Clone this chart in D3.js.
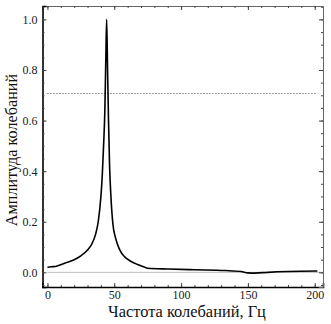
<!DOCTYPE html>
<html>
<head>
<meta charset="utf-8">
<script src="https://cdn.jsdelivr.net/npm/d3@7"></script>
<style>
  body { margin: 0; background: #fff; }
  svg { display: block; }
</style>
</head>
<body>
<div id="chart"></div>
<script>
// spectrum
let freq = [0, 3, 6, 10, 15, 20, 25, 30, 33, 36, 38, 40, 41, 42, 43, 43.7, 44.3, 45, 45.7, 46.5, 47.5, 49, 51, 54, 58, 62, 67, 72, 75, 90, 110, 133, 145, 150, 155, 165, 180, 202]
let amp  = [0.02, 0.022, 0.023, 0.03, 0.04, 0.05, 0.065, 0.088, 0.11, 0.15, 0.2, 0.3, 0.38, 0.5, 0.65, 0.85, 1.0, 0.8, 0.6, 0.42, 0.3, 0.19, 0.135, 0.09, 0.06, 0.045, 0.032, 0.022, 0.016, 0.013, 0.01, 0.007, 0.003, -0.002, -0.003, 0.0, 0.003, 0.005]

let xTicks = [0, 50, 100, 150, 200]
let yTicks = [0.0, 0.2, 0.4, 0.6, 0.8, 1.0]
let level = [1 / Math.SQRT2]   // half-power line

let xLabel = "Частота колебаний, Гц"
let yLabel = "Амплитуда колебаний"

let width = 331
let height = 324
let mLeft = 42.5, mRight = 323, mTop = 6, mBottom = 287

let x = d3.scaleLinear().domain([-3.7, 206.2]).range([mLeft, mRight])
let y = d3.scaleLinear().domain([-0.058, 1.053]).range([mBottom, mTop])

let svg = d3.select("#chart").append("svg")
  .attr("width", width)
  .attr("height", height)
  .attr("viewBox", [0, 0, width, height])

let font = "Liberation Serif, Times New Roman, serif"

// zero line
svg.append("line")
  .attr("x1", x(0)).attr("x2", mRight)
  .attr("y1", y(0)).attr("y2", y(0))
  .attr("stroke", "#bbb").attr("stroke-width", 1)

// 0.707 level
svg.selectAll(".level")
  .data(level)
  .join("line")
  .attr("x1", x(0)).attr("x2", x(202))
  .attr("y1", d => y(d)).attr("y2", d => y(d))
  .attr("stroke", "#444").attr("stroke-width", 1)
  .attr("stroke-dasharray", "1,2")

// curve
let pts = freq.map((f, i) => [f, amp[i]])
svg.append("path")
  .datum(pts)
  .attr("fill", "none")
  .attr("stroke", "#000")
  .attr("stroke-width", 1.6)
  .attr("stroke-linejoin", "round")
  .attr("d", d3.line().x(d => x(d[0])).y(d => y(d[1])).curve(d3.curveMonotoneX))

// axes, ticks inward
let xMinor = d3.range(0, 206, 10)
let yMinor = d3.range(-0.05, 1.051, 0.05)

let axB = d3.axisTop(x).tickValues(xTicks).tickSize(4).tickFormat(d3.format("d"))
let axT = d3.axisBottom(x).tickValues(xTicks).tickSize(4).tickFormat("")
let axL = d3.axisRight(y).tickValues(yTicks).tickSize(4).tickFormat(d3.format(".1f"))
let axR = d3.axisLeft(y).tickValues(yTicks).tickSize(4).tickFormat("")

function minor(g, axis, vals) {
  g.append("g").call(axis.tickValues(vals).tickSize(2).tickFormat(""))
    .call(s => s.select(".domain").remove())
}

let gB = svg.append("g").attr("transform", `translate(0,${mBottom})`)
gB.call(axB)
minor(gB, d3.axisTop(x), xMinor)
gB.selectAll("text").attr("y", 3).attr("dy", "0.71em")
  .attr("font-family", font).attr("font-size", 12).attr("fill", "#222")

let gT = svg.append("g").attr("transform", `translate(0,${mTop})`)
gT.call(axT)
minor(gT, d3.axisBottom(x), xMinor)

let gL = svg.append("g").attr("transform", `translate(${mLeft},0)`)
gL.call(axL)
minor(gL, d3.axisRight(y), yMinor)
gL.selectAll("text").attr("x", -5).attr("text-anchor", "end")
  .attr("font-family", font).attr("font-size", 12).attr("fill", "#222")

let gR = svg.append("g").attr("transform", `translate(${mRight},0)`)
gR.call(axR)
minor(gR, d3.axisLeft(y), yMinor)

svg.selectAll(".domain").attr("stroke", "#666")
svg.selectAll(".tick line").attr("stroke", "#444")
gB.select(".domain").attr("stroke", "#000").attr("stroke-width", 1.6)
gL.select(".domain").attr("stroke", "#000").attr("stroke-width", 1.6)

// titles
svg.append("text")
  .attr("x", 187)
  .attr("y", 317)
  .attr("text-anchor", "middle")
  .attr("font-family", font).attr("font-size", 16.4).attr("fill", "#111")
  .text(xLabel)

svg.append("text")
  .attr("transform", `translate(17,150) rotate(-90)`)
  .attr("text-anchor", "middle")
  .attr("font-family", font).attr("font-size", 16.2).attr("fill", "#111")
  .text(yLabel)
</script>
</body>
</html>
